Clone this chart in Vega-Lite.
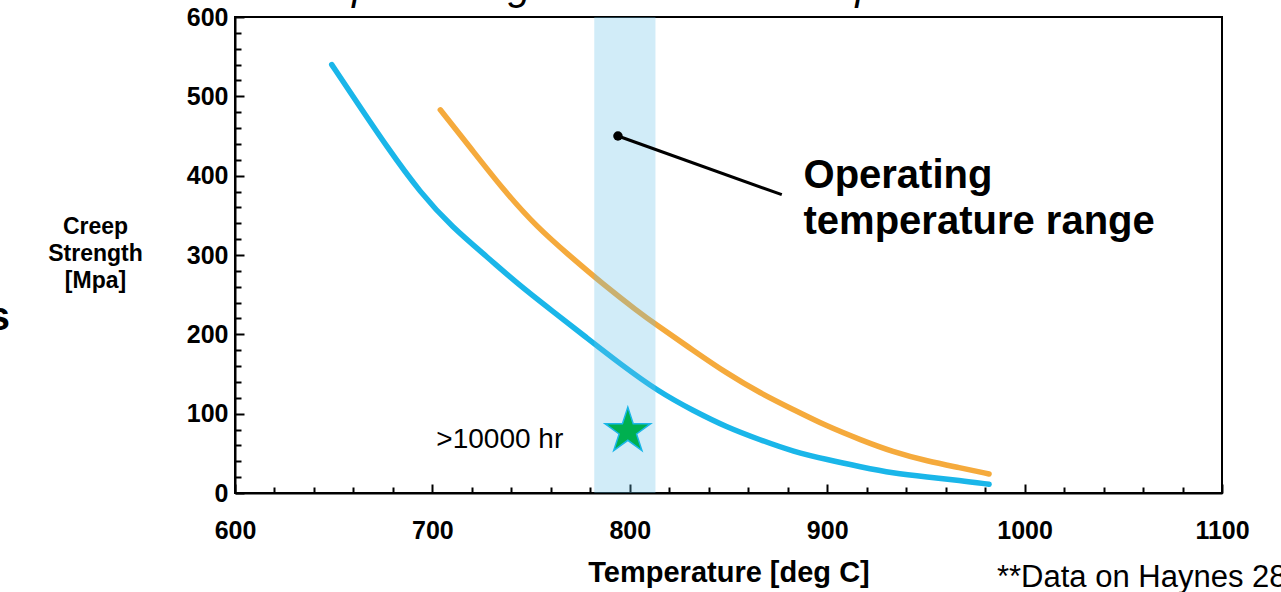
{
  "$schema": "https://vega.github.io/schema/vega-lite/v6.json",
  "autosize": "none",
  "width": 987,
  "height": 476,
  "padding": {"left": 235, "top": 17, "right": 59, "bottom": 99},
  "background": "white",
  "config": {
    "view": {"stroke": "black", "strokeWidth": 2},
    "font": "Liberation Sans",
    "axis": {"grid": false, "tickColor": "black", "tickWidth": 2, "domainColor": "black", "domainWidth": 2, "labelColor": "black", "titleColor": "black"}
  },
  "datasets": {
    "curves": [
      {"series": "Alloy A", "temp": 649, "mpa": 540},
      {"series": "Alloy A", "temp": 660, "mpa": 499},
      {"series": "Alloy A", "temp": 677, "mpa": 436},
      {"series": "Alloy A", "temp": 694, "mpa": 378},
      {"series": "Alloy A", "temp": 710, "mpa": 335},
      {"series": "Alloy A", "temp": 728, "mpa": 297},
      {"series": "Alloy A", "temp": 744, "mpa": 262},
      {"series": "Alloy A", "temp": 761, "mpa": 229},
      {"series": "Alloy A", "temp": 778, "mpa": 196},
      {"series": "Alloy A", "temp": 795, "mpa": 163},
      {"series": "Alloy A", "temp": 815, "mpa": 127},
      {"series": "Alloy A", "temp": 832, "mpa": 104},
      {"series": "Alloy A", "temp": 849, "mpa": 83},
      {"series": "Alloy A", "temp": 866, "mpa": 67},
      {"series": "Alloy A", "temp": 883, "mpa": 52},
      {"series": "Alloy A", "temp": 900, "mpa": 42},
      {"series": "Alloy A", "temp": 917, "mpa": 33},
      {"series": "Alloy A", "temp": 933, "mpa": 25},
      {"series": "Alloy A", "temp": 951, "mpa": 20},
      {"series": "Alloy A", "temp": 967, "mpa": 16},
      {"series": "Alloy A", "temp": 982, "mpa": 11},
      {"series": "Alloy B", "temp": 704, "mpa": 483},
      {"series": "Alloy B", "temp": 719, "mpa": 436},
      {"series": "Alloy B", "temp": 736, "mpa": 382},
      {"series": "Alloy B", "temp": 753, "mpa": 335},
      {"series": "Alloy B", "temp": 770, "mpa": 298},
      {"series": "Alloy B", "temp": 786, "mpa": 264},
      {"series": "Alloy B", "temp": 804, "mpa": 229},
      {"series": "Alloy B", "temp": 814, "mpa": 211},
      {"series": "Alloy B", "temp": 832, "mpa": 180},
      {"series": "Alloy B", "temp": 849, "mpa": 151},
      {"series": "Alloy B", "temp": 866, "mpa": 126},
      {"series": "Alloy B", "temp": 883, "mpa": 105},
      {"series": "Alloy B", "temp": 900, "mpa": 84},
      {"series": "Alloy B", "temp": 917, "mpa": 67},
      {"series": "Alloy B", "temp": 933, "mpa": 52},
      {"series": "Alloy B", "temp": 951, "mpa": 40},
      {"series": "Alloy B", "temp": 967, "mpa": 32},
      {"series": "Alloy B", "temp": 982, "mpa": 24}
    ],
    "band": [{"lo": 782, "hi": 813}],
    "star": [{"temp": 799, "mpa": 78}],
    "pointer": [{"temp": 794, "mpa": 450, "temp2": 877, "mpa2": 376}],
    "boldnotes": [
      {"text": "Operating", "temp": 888, "mpa": 400},
      {"text": "temperature range", "temp": 888, "mpa": 342}
    ],
    "plainnotes": [
      {"text": ">10000 hr", "temp": 702, "mpa": 67, "size": 28},
      {"text": "**Data on Haynes 282", "temp": 986, "mpa": -107, "size": 31}
    ],
    "cutbold": [{"text": "s", "temp": 486, "mpa": 205}],
    "cutitalic": [
      {"text": "p", "temp": 665, "mpa": 622},
      {"text": "g", "temp": 744, "mpa": 622},
      {"text": "p", "temp": 920, "mpa": 622}
    ]
  },
  "layer": [
    {
      "data": {"name": "curves"},
      "mark": {"type": "line", "strokeWidth": 5.5, "strokeCap": "round", "interpolate": "basis"},
      "encoding": {
        "x": {"field": "temp", "type": "quantitative", "scale": {"domain": [600, 1100], "nice": false, "zero": false},
          "axis": {"values": [600, 620, 640, 660, 680, 700, 720, 740, 760, 780, 800, 820, 840, 860, 880, 900, 920, 940, 960, 980, 1000, 1020, 1040, 1060, 1080, 1100],
            "tickCount": 100,
            "labelExpr": "datum.value % 100 === 0 ? datum.value : ''",
            "labelOverlap": false,
            "tickSize": {"condition": {"test": "datum.value % 100 === 0", "value": -9}, "value": -6},
            "labelPadding": 34,
            "labelFontSize": 25, "labelFontWeight": "bold", "labelFlush": false,
            "title": "Temperature  [deg C]", "titleFontSize": 29, "titleFontWeight": "bold", "titlePadding": 12}},
        "y": {"field": "mpa", "type": "quantitative", "scale": {"domain": [0, 600], "nice": false},
          "axis": {"values": [0, 20, 40, 60, 80, 100, 120, 140, 160, 180, 200, 220, 240, 260, 280, 300, 320, 340, 360, 380, 400, 420, 440, 460, 480, 500, 520, 540, 560, 580, 600],
            "tickCount": 100,
            "labelExpr": "datum.value % 100 === 0 ? datum.value : ''",
            "labelOverlap": false,
            "tickSize": {"condition": {"test": "datum.value % 100 === 0", "value": -9}, "value": -6},
            "labelPadding": 16,
            "labelFontSize": 25, "labelFontWeight": "bold", "labelFlush": false,
            "title": ["Creep", "Strength", "[Mpa]"], "titleFontSize": 23, "titleFontWeight": "bold", "titleAngle": 0,
            "titleAlign": "center", "titleBaseline": "top", "titleX": -140, "titleY": 198, "titleLineHeight": 27}},
        "color": {"field": "series", "type": "nominal", "scale": {"domain": ["Alloy A", "Alloy B"], "range": ["#1AB6E9", "#F5AA3C"]}, "legend": null}
      }
    },
    {
      "data": {"name": "band"},
      "mark": {"type": "rect", "color": "#66C0E8", "opacity": 0.3},
      "encoding": {
        "x": {"field": "lo", "type": "quantitative"},
        "x2": {"field": "hi"},
        "y": {"datum": 0, "type": "quantitative"},
        "y2": {"datum": 600}
      }
    },
    {
      "data": {"name": "star"},
      "mark": {"type": "point", "shape": "M0,-1L0.2245,-0.309L0.9511,-0.309L0.3633,0.118L0.5878,0.809L0,0.382L-0.5878,0.809L-0.3633,0.118L-0.9511,-0.309L-0.2245,-0.309Z", "size": 2300, "filled": true, "fill": "#00B050", "stroke": "#1AB6E9", "strokeWidth": 1.5, "opacity": 1},
      "encoding": {
        "x": {"field": "temp", "type": "quantitative"},
        "y": {"field": "mpa", "type": "quantitative"}
      }
    },
    {
      "data": {"name": "pointer"},
      "mark": {"type": "rule", "color": "black", "strokeWidth": 3},
      "encoding": {
        "x": {"field": "temp", "type": "quantitative"},
        "y": {"field": "mpa", "type": "quantitative"},
        "x2": {"field": "temp2"},
        "y2": {"field": "mpa2"}
      }
    },
    {
      "data": {"name": "pointer"},
      "mark": {"type": "point", "filled": true, "color": "black", "size": 90, "opacity": 1},
      "encoding": {
        "x": {"field": "temp", "type": "quantitative"},
        "y": {"field": "mpa", "type": "quantitative"}
      }
    },
    {
      "data": {"name": "boldnotes"},
      "mark": {"type": "text", "baseline": "middle", "align": "left", "color": "black", "fontSize": 40, "fontWeight": "bold"},
      "encoding": {
        "x": {"field": "temp", "type": "quantitative"},
        "y": {"field": "mpa", "type": "quantitative"},
        "text": {"field": "text"}
      }
    },
    {
      "data": {"name": "plainnotes"},
      "mark": {"type": "text", "baseline": "middle", "align": "left", "color": "black"},
      "encoding": {
        "x": {"field": "temp", "type": "quantitative"},
        "y": {"field": "mpa", "type": "quantitative"},
        "text": {"field": "text"},
        "size": {"field": "size", "type": "quantitative", "scale": null}
      }
    },
    {
      "data": {"name": "cutbold"},
      "mark": {"type": "text", "baseline": "alphabetic", "align": "right", "color": "black", "fontSize": 40, "fontWeight": "bold"},
      "encoding": {
        "x": {"field": "temp", "type": "quantitative"},
        "y": {"field": "mpa", "type": "quantitative"},
        "text": {"field": "text"}
      }
    },
    {
      "data": {"name": "cutitalic"},
      "mark": {"type": "text", "baseline": "alphabetic", "align": "center", "color": "black", "fontSize": 40, "fontStyle": "italic"},
      "encoding": {
        "x": {"field": "temp", "type": "quantitative"},
        "y": {"field": "mpa", "type": "quantitative"},
        "text": {"field": "text"}
      }
    }
  ]
}
